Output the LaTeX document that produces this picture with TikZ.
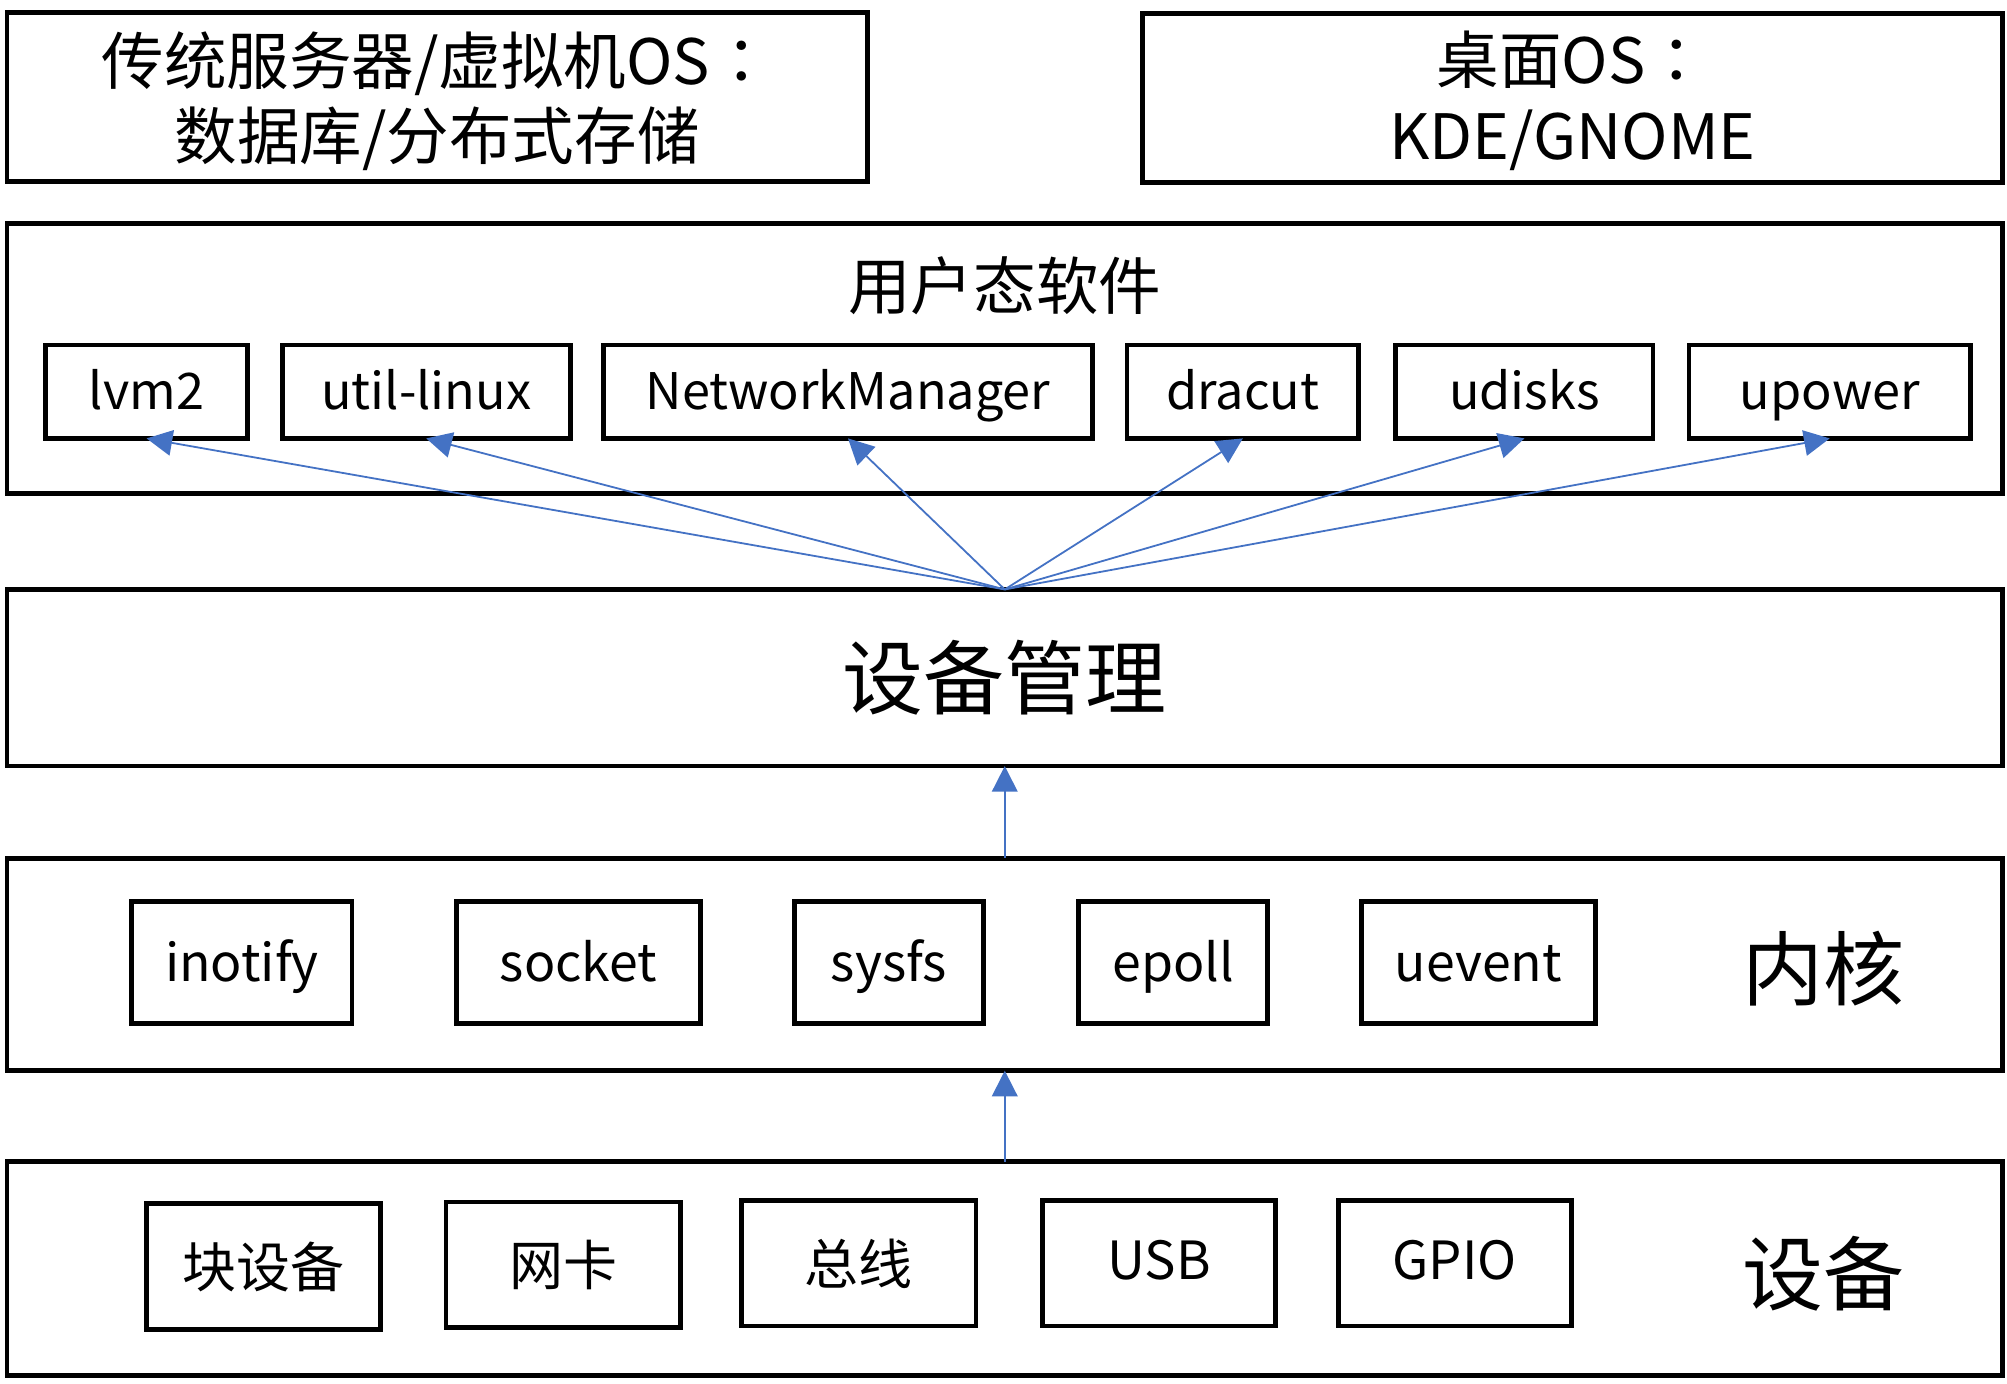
\documentclass[tikz,border=0pt]{standalone}
\usepackage{fontspec}
\newfontfamily\cjk{Noto Sans CJK SC}
\newfontfamily\cjktc{Noto Sans CJK TC}
\usetikzlibrary{arrows.meta}
\definecolor{arrblue}{RGB}{68,114,196}
\newcommand{\fwcolon}{{\cjktc ：}}
\begin{document}
\begin{tikzpicture}[x=0.01cm,y=-0.01cm,
  box/.style={draw=black,line width=1.05pt,rectangle,inner sep=0pt,outer sep=0pt,font=\cjk},
  arr/.style={draw=arrblue,line width=0.4pt,-{Triangle[length=0.2cm,width=0.2cm]}},
  lbl/.style={inner sep=0pt,font=\cjk},
  latin/.style={text height=0.3cm,text depth=0.02cm},
  big/.style={font=\cjk\fontsize{18pt}{20pt}\selectfont},
  mid/.style={font=\cjk\fontsize{13.9pt}{16.8pt}\selectfont},
  usr/.style={latin,font=\cjk\fontsize{11.2pt}{14pt}\selectfont},
  krn/.style={text height=0.31cm,text depth=0.01cm,font=\cjk\fontsize{11.5pt}{14pt}\selectfont},
  dev/.style={font=\cjk\fontsize{12pt}{14pt}\selectfont},
  devl/.style={text height=0.28cm,text depth=0.02cm,font=\cjk\fontsize{11.7pt}{14pt}\selectfont}]
\useasboundingbox (0,0) rectangle (1568,1081);
% top boxes
\node[box,minimum width=672*0.01cm,minimum height=132*0.01cm] (trad) at (341.5,76) {};
\node[lbl,mid,align=center] (tradtext) at (341.5,79) {传统服务器/虚拟机OS\fwcolon\\数据库/分布式存储};
\node[box,minimum width=672*0.01cm,minimum height=132*0.01cm] (desk) at (1228.5,76.5) {};
\node[lbl,mid,align=center] (desktext) at (1228.5,79) {桌面OS\fwcolon\\KDE/GNOME};
% user layer
\node[box,minimum width=1559*0.01cm,minimum height=211*0.01cm] (user) at (785,280) {};
\node[lbl,mid] (usertitle) at (785,223) {用户态软件};
\node[box,usr,minimum width=158*0.01cm,minimum height=73*0.01cm] (lvm) at (114.5,306) {lvm2};
\node[box,usr,minimum width=225*0.01cm,minimum height=73*0.01cm] (util) at (333,306) {util-linux};
\node[box,usr,minimum width=382*0.01cm,minimum height=73*0.01cm] (nm) at (662.5,306) {NetworkManager};
\node[box,usr,minimum width=181*0.01cm,minimum height=73*0.01cm] (dracut) at (971,306) {dracut};
\node[box,usr,minimum width=201*0.01cm,minimum height=73*0.01cm] (udisks) at (1191,306) {udisks};
\node[box,usr,minimum width=220*0.01cm,minimum height=73*0.01cm] (upower) at (1429.5,306) {upower};
% device management
\node[box,big,minimum width=1559*0.01cm,minimum height=138*0.01cm] (dm) at (785,529.5) {设备管理};
% kernel
\node[box,minimum width=1559*0.01cm,minimum height=166*0.01cm] (kernel) at (785,753.5) {};
\node[lbl,big] (kerneltitle) at (1425,757) {内核};
\node[box,krn,minimum width=172*0.01cm,minimum height=95*0.01cm] (inotify) at (189,752) {inotify};
\node[box,krn,minimum width=191*0.01cm,minimum height=95*0.01cm] (socket) at (452,752) {socket};
\node[box,krn,minimum width=148*0.01cm,minimum height=95*0.01cm] (sysfs) at (694.5,752) {sysfs};
\node[box,krn,minimum width=148*0.01cm,minimum height=95*0.01cm] (epoll) at (916.5,752) {epoll};
\node[box,krn,minimum width=183*0.01cm,minimum height=95*0.01cm] (uevent) at (1155,752) {uevent};
% devices
\node[box,minimum width=1559*0.01cm,minimum height=167*0.01cm] (device) at (785,991) {};
\node[lbl,big] (devicetitle) at (1425,995) {设备};
\node[box,dev,minimum width=183*0.01cm,minimum height=98*0.01cm] (blk) at (206,989.5) {块设备};
\node[box,dev,minimum width=183*0.01cm,minimum height=98*0.01cm] (nic) at (440,988) {网卡};
\node[box,dev,minimum width=183*0.01cm,minimum height=98*0.01cm] (bus) at (671,987) {总线};
\node[box,devl,minimum width=182*0.01cm,minimum height=98*0.01cm] (usb) at (905.5,987) {USB};
\node[box,devl,minimum width=182*0.01cm,minimum height=98*0.01cm] (gpio) at (1136.5,987) {GPIO};
% connectors
\draw[arr] (dm.north) -- (lvm.south);
\draw[arr] (dm.north) -- (util.south);
\draw[arr] (dm.north) -- (nm.south);
\draw[arr] (dm.north) -- (dracut.south);
\draw[arr] (dm.north) -- (udisks.south);
\draw[arr] (dm.north) -- (upower.south);
\draw[arr] (kernel.north) -- (dm.south);
\draw[arr] (device.north) -- (kernel.south);
\end{tikzpicture}
\end{document}
